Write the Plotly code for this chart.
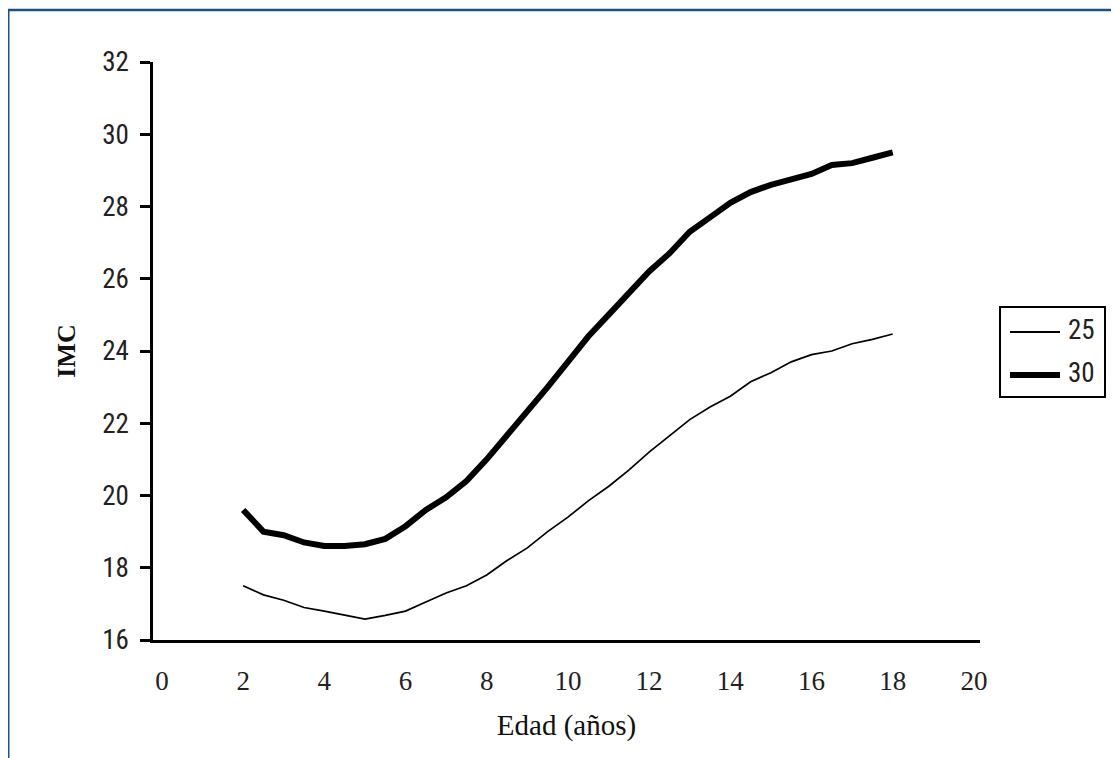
import plotly.graph_objects as go

edad = [2, 2.5, 3, 3.5, 4, 4.5, 5, 5.5, 6, 6.5, 7, 7.5, 8, 8.5, 9, 9.5, 10,
        10.5, 11, 11.5, 12, 12.5, 13, 13.5, 14, 14.5, 15, 15.5, 16, 16.5, 17, 17.5, 18]

imc_25 = [17.5, 17.25, 17.1, 16.9, 16.8, 16.68, 16.58, 16.68, 16.8, 17.05, 17.3,
          17.5, 17.8, 18.2, 18.55, 19.0, 19.4, 19.85, 20.25, 20.7, 21.2, 21.65,
          22.1, 22.45, 22.75, 23.15, 23.4, 23.7, 23.9, 24.0, 24.2, 24.32, 24.47]

imc_30 = [19.6, 19.0, 18.9, 18.7, 18.6, 18.6, 18.65, 18.8, 19.15, 19.6, 19.95,
          20.4, 21.0, 21.65, 22.3, 23.0, 23.7, 24.4, 25.0, 25.6, 26.2, 26.7,
          27.3, 27.7, 28.1, 28.4, 28.6, 28.75, 28.9, 29.15, 29.2, 29.35, 29.5]

series_names = ["25", "30"]
series_widths = [1.7, 6]
x_ticks = [0, 2, 4, 6, 8, 10, 12, 14, 16, 18, 20]
y_ticks = [16, 18, 20, 22, 24, 26, 28, 30, 32]

fig = go.Figure()
fig.add_trace(go.Scatter(x=edad, y=imc_25, name=series_names[0], mode="lines",
                         line=dict(color="black", width=series_widths[0])))
fig.add_trace(go.Scatter(x=edad, y=imc_30, name=series_names[1], mode="lines",
                         line=dict(color="black", width=series_widths[1])))

# page body has an 8px margin in the browser
OFF = 8
W, H = 1119 - OFF, 758 - OFF
# plot area in screen pixels
L, R, T, B = 153, 980, 62, 640

def px(xp):
    return (xp - L) / (R - L)

def py(yp):
    return (B - yp) / (B - T)

frame_color = "#1c4f8d"
fig.add_shape(type="line", xref="paper", yref="paper",
              x0=px(8), x1=px(8), y0=py(9), y1=py(758),
              line=dict(color=frame_color, width=3))
fig.add_shape(type="line", xref="paper", yref="paper",
              x0=px(7), x1=px(1119), y0=py(10), y1=py(10),
              line=dict(color=frame_color, width=2.5))

narrow = "Liberation Sans Narrow, Roboto Condensed, Liberation Sans, Arial"
serif = "Liberation Serif, DejaVu Serif, Times New Roman"

# legend box drawn by hand (wider line samples than plotly's legend)
fig.add_shape(type="rect", xref="paper", yref="paper",
              x0=px(1000), x1=px(1105), y0=py(397), y1=py(307),
              line=dict(color="black", width=2), fillcolor="white")
legend_rows = [332, 375]
for name, lw, yrow in zip(series_names, series_widths, legend_rows):
    fig.add_shape(type="line", xref="paper", yref="paper",
                  x0=px(1010), x1=px(1060), y0=py(yrow), y1=py(yrow),
                  line=dict(color="black", width=lw + (0.4 if lw < 3 else 0)))
    fig.add_annotation(xref="paper", yref="paper", x=px(1066), y=py(yrow - 2),
                       text=name, showarrow=False, xanchor="left", yanchor="middle",
                       font=dict(family=narrow, size=27, color="#222"))

fig.update_layout(
    width=W, height=H,
    margin=dict(l=L - OFF, r=(W + OFF) - R, t=T - OFF, b=(H + OFF) - B, pad=0),
    plot_bgcolor="white", paper_bgcolor="white",
    showlegend=False,
    xaxis=dict(range=[-0.22, 20.15], tickvals=x_ticks,
               ticktext=[str(v) for v in x_ticks],
               showgrid=False, zeroline=False,
               showline=True, linecolor="black", linewidth=3,
               ticks="outside", ticklen=15, tickcolor="rgba(0,0,0,0)",
               tickfont=dict(family=serif, size=27, color="#222"),
               title=dict(text="Edad (años)", standoff=20,
                          font=dict(family=serif, size=29, color="#111"))),
    yaxis=dict(range=[16, 32], tickvals=y_ticks,
               showgrid=False, zeroline=False,
               showline=True, linecolor="black", linewidth=2.5,
               ticks="outside", ticklen=10, tickwidth=3, tickcolor="black",
               ticklabelstandoff=6,
               tickfont=dict(family=narrow, size=27, color="#222"),
               title=dict(text="<b>IMC</b>", standoff=20,
                          font=dict(family=serif, size=26, color="#111"))),
)

fig.write_html("out.html")
